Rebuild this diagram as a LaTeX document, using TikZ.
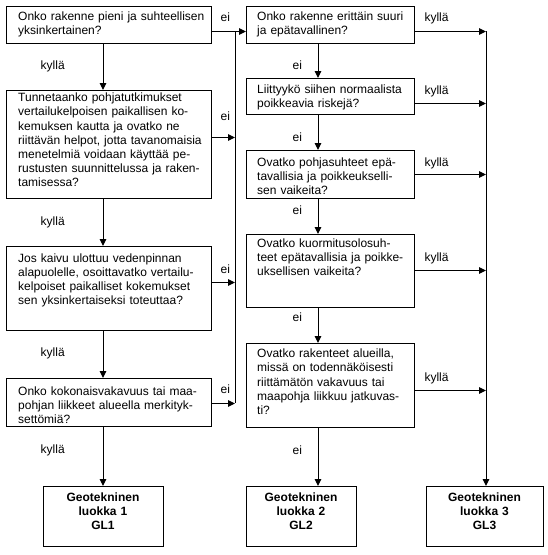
\documentclass[tikz,border=0pt]{standalone}
\usepackage{fontspec}
\setmainfont{Liberation Sans}
\usetikzlibrary{arrows.meta}
\begin{document}
\begin{tikzpicture}[x=1pt,y=-1pt,
  qbox/.style={draw, line width=1pt, inner sep=0pt, anchor=north west},
  qtext/.style={anchor=base west, inner sep=0pt, text width=#1, align=left, font=\fontsize{12}{14.2}\selectfont},
  gtext/.style={anchor=base, inner sep=0pt, text width=#1, align=center, font=\fontsize{12}{14}\selectfont\bfseries},
  lab/.style={anchor=base west, inner sep=0pt, font=\fontsize{12}{14}\selectfont},
  conn/.style={line width=1pt},
  arr/.style={line width=1pt, -{Triangle[length=7pt,width=6.5pt]}}
]
\useasboundingbox[fill=white] (0,0) rectangle (547,555);

% left column boxes
\node[qbox, minimum width=205pt, minimum height=37pt] (a1) at (6,6) {};
\node[qbox, minimum width=205pt, minimum height=108pt] (a2) at (6,90) {};
\node[qbox, minimum width=205pt, minimum height=84pt] (a3) at (6,246) {};
\node[qbox, minimum width=205pt, minimum height=48pt] (a4) at (6,378) {};
\node[qbox, minimum width=120pt, minimum height=60pt] (gl1) at (43,486) {};

% middle column boxes
\node[qbox, minimum width=168pt, minimum height=37pt] (b1) at (246,6) {};
\node[qbox, minimum width=168pt, minimum height=36pt] (b2) at (246,78) {};
\node[qbox, minimum width=168pt, minimum height=48pt] (b3) at (246,150) {};
\node[qbox, minimum width=168pt, minimum height=73pt] (b4) at (246,234) {};
\node[qbox, minimum width=168pt, minimum height=84pt] (b5) at (246,343) {};
\node[qbox, minimum width=110pt, minimum height=60pt] (gl2) at (246,486) {};

% right column box
\node[qbox, minimum width=117pt, minimum height=60pt] (gl3) at (426,486) {};

% texts
\node[qtext=200pt] (a1t) at (18,20.7) {Onko rakenne pieni ja suhteellisen\\yksinkertainen?};
\node[qtext=200pt] (a2t) at (18,101.7) {Tunnetaanko pohjatutkimukset\\vertailukelpoisen paikallisen ko-\\kemuksen kautta ja ovatko ne\\riittävän helpot, jotta tavanomaisia\\menetelmiä voidaan käyttää pe-\\rustusten suunnittelussa ja raken-\\tamisessa?};
\node[qtext=200pt] (a3t) at (18,262) {Jos kaivu ulottuu vedenpinnan\\alapuolelle, osoittavatko vertailu-\\kelpoiset paikalliset kokemukset\\sen yksinkertaiseksi toteuttaa?};
\node[qtext=200pt] (a4t) at (18,395.5) {Onko kokonaisvakavuus tai maa-\\pohjan liikkeet alueella merkityk-\\settömiä?};

\node[qtext=165pt] (b1t) at (257,20.7) {Onko rakenne erittäin suuri\\ja epätavallinen?};
\node[qtext=165pt] (b2t) at (257,93.3) {Liittyykö siihen normaalista\\poikkeavia riskejä?};
\node[qtext=165pt] (b3t) at (257,166) {Ovatko pohjasuhteet epä-\\tavallisia ja poikkeukselli-\\sen vaikeita?};
\node[qtext=165pt] (b4t) at (257,247.5) {Ovatko kuormitusolosuh-\\teet epätavallisia ja poikke-\\uksellisen vaikeita?};
\node[qtext=165pt] (b5t) at (257,357.7) {Ovatko rakenteet alueilla,\\missä on todennäköisesti\\riittämätön vakavuus tai\\maapohja liikkuu jatkuvas-\\ti?};

\node[gtext=110pt] (gl1t) at (103,501.7) {Geotekninen\\luokka 1\\GL1};
\node[gtext=100pt] (gl2t) at (301,501.7) {Geotekninen\\luokka 2\\GL2};
\node[gtext=110pt] (gl3t) at (484.5,501.7) {Geotekninen\\luokka 3\\GL3};

% labels
\node[lab] (k1) at (40.5,69.5) {kyllä};
\node[lab] (k2) at (40.5,225) {kyllä};
\node[lab] (k3) at (40.5,356.5) {kyllä};
\node[lab] (k4) at (40.5,453) {kyllä};
\node[lab] (e1) at (220.5,21.7) {ei};
\node[lab] (e2) at (220.5,120.7) {ei};
\node[lab] (e3) at (220.5,273.3) {ei};
\node[lab] (e4) at (220.5,393.3) {ei};
\node[lab] (m1) at (292.5,69.3) {ei};
\node[lab] (m2) at (292.5,141.7) {ei};
\node[lab] (m3) at (292.5,214) {ei};
\node[lab] (m4) at (292.5,321.7) {ei};
\node[lab] (m5) at (292.5,454.3) {ei};
\node[lab] (r1) at (424.3,21.7) {kyllä};
\node[lab] (r2) at (424.3,94) {kyllä};
\node[lab] (r3) at (424.3,166) {kyllä};
\node[lab] (r4) at (424.3,261.7) {kyllä};
\node[lab] (r5) at (424.3,381.7) {kyllä};

% coordinates
\coordinate (L) at (235,31);
\coordinate (Lb) at (235,403);
\coordinate (R) at (486,31);
\coordinate (lx) at (103,0);
\coordinate (mx) at (318,0);
\coordinate (a1e) at ([yshift=-6.5pt]a1.east);
\coordinate (a2e) at ([yshift=7pt]a2.east);
\coordinate (a3e) at ([yshift=6pt]a3.east);
\coordinate (a4e) at ([yshift=-1pt]a4.east);
\coordinate (b1e) at ([yshift=-6.5pt]b1.east);
\coordinate (b2e) at ([yshift=-7pt]b2.east);
\coordinate (b3e) at (b3.east);
\coordinate (b4e) at ([yshift=0.5pt]b4.east);
\coordinate (b5e) at ([yshift=-5pt]b5.east);

% left collector
\draw[conn] (L) -- (Lb);
\draw[arr] (a1e) -- (a1e -| b1.west);
\draw[arr] (a2e) -- (a2e -| L);
\draw[arr] (a3e) -- (a3e -| L);
\draw[arr] (a4e) -- (a4e -| L);

% left vertical chain
\draw[arr] (lx |- a1.south) -- (lx |- a2.north);
\draw[arr] (lx |- a2.south) -- (lx |- a3.north);
\draw[arr] (lx |- a3.south) -- (lx |- a4.north);
\draw[arr] (lx |- a4.south) -- (lx |- gl1.north);

% middle vertical chain
\draw[arr] (mx |- b1.south) -- (mx |- b2.north);
\draw[arr] (mx |- b2.south) -- (mx |- b3.north);
\draw[arr] (mx |- b3.south) -- (mx |- b4.north);
\draw[arr] (mx |- b4.south) -- (mx |- b5.north);
\draw[arr] (mx |- b5.south) -- (mx |- gl2.north);

% right collector
\draw[arr] (b1e) -- (b1e -| R);
\draw[arr] (b2e) -- (b2e -| R);
\draw[arr] (b3e) -- (b3e -| R);
\draw[arr] (b4e) -- (b4e -| R);
\draw[arr] (b5e) -- (b5e -| R);
\draw[arr] (R) -- (R |- gl3.north);
\end{tikzpicture}
\end{document}
